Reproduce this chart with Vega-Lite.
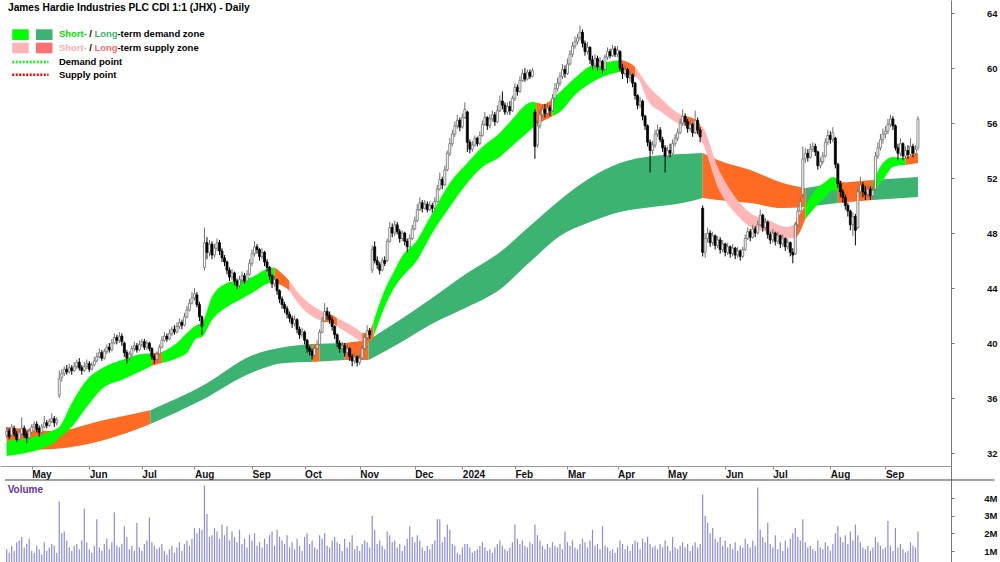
{
"$schema": "https://vega.github.io/schema/vega-lite/v6.json",
"width": 951, "height": 562,
"autosize": {"type": "none"},
"padding": {"left": 0, "top": 0, "right": 49, "bottom": 0},
"background": "white",
"config": {"view": {"stroke": null}, "font": "Liberation Sans", "text": {"font": "Liberation Sans"}},
"data": {"values": "i,o,h,l,c,v\n0,33.3,33.9,33.1,33.6,1.1\n1,33.6,33.8,33.0,33.2,0.9\n2,33.3,34.1,33.2,33.9,1.3\n3,33.8,34.0,33.2,33.4,1.0\n4,33.4,33.6,32.8,33.0,1.5\n5,33.0,33.7,32.9,33.5,1.6\n6,33.4,34.6,33.3,33.8,1.8\n7,33.8,34.0,33.1,33.3,1.2\n8,33.4,33.6,32.7,33.1,1.4\n9,33.1,33.8,33.0,33.6,1.7\n10,33.5,34.1,33.4,33.9,1.0\n11,33.9,34.3,33.7,34.1,0.9\n12,34.1,34.3,33.5,33.7,1.3\n13,33.8,34.0,33.2,33.5,1.1\n14,33.5,34.1,33.3,33.9,0.8\n15,33.9,34.7,33.8,34.2,1.5\n16,34.2,34.4,33.8,34.0,1.0\n17,34.0,34.5,33.9,34.3,1.2\n18,34.3,34.9,34.2,34.5,1.4\n19,34.5,34.7,33.9,34.2,1.3\n20,34.2,34.6,34.0,34.4,0.9\n21,36.2,38.0,36.0,37.4,3.8\n22,37.5,38.1,37.2,37.8,2.0\n23,37.8,38.3,37.6,38.1,2.1\n24,38.1,38.4,37.7,37.9,1.6\n25,37.9,38.5,37.8,38.2,1.2\n26,38.2,38.4,37.7,38.0,1.0\n27,38.0,38.6,37.9,38.3,1.3\n28,38.3,38.8,38.1,38.6,1.4\n29,38.6,38.9,38.0,38.2,1.1\n30,38.2,38.4,37.7,38.0,1.6\n31,38.0,38.6,37.9,38.3,3.4\n32,38.3,38.8,38.1,38.5,1.5\n33,38.5,38.7,37.9,38.1,1.1\n34,38.1,38.6,38.0,38.4,0.9\n35,38.4,39.0,38.3,38.7,1.3\n36,38.7,39.3,38.6,39.0,2.8\n37,39.0,39.6,38.9,39.3,1.2\n38,39.3,39.5,38.7,38.9,1.0\n39,38.9,39.6,38.8,39.4,1.4\n40,39.4,39.9,39.2,39.7,1.7\n41,39.7,40.0,39.3,39.5,1.1\n42,39.5,40.3,39.4,40.0,1.5\n43,40.0,40.7,39.9,40.4,3.2\n44,40.4,40.6,39.9,40.2,1.3\n45,40.2,40.8,40.0,40.5,1.2\n46,40.5,40.7,39.8,40.1,1.4\n47,40.0,40.1,39.0,39.3,2.4\n48,39.3,39.5,38.5,38.9,1.8\n49,38.9,39.4,38.7,39.2,1.1\n50,39.2,39.8,39.0,39.6,1.3\n51,39.6,40.1,39.4,39.8,1.0\n52,39.8,40.0,39.3,39.5,2.6\n53,39.5,40.2,39.4,39.9,1.2\n54,39.9,40.3,39.7,40.1,1.0\n55,40.1,40.3,39.5,39.7,1.4\n56,39.7,40.2,39.5,40.0,1.6\n57,40.0,40.1,39.4,39.6,2.9\n58,39.6,39.7,38.8,39.0,1.5\n59,39.0,39.2,38.5,38.8,1.3\n60,38.8,39.4,38.6,39.2,1.1\n61,39.2,39.9,39.1,39.7,1.2\n62,39.7,40.5,39.6,40.2,1.4\n63,40.2,40.8,40.1,40.5,1.0\n64,40.5,40.7,40.1,40.3,0.8\n65,40.3,41.0,40.2,40.7,1.1\n66,40.7,41.2,40.5,41.0,1.3\n67,41.0,41.3,40.6,40.8,0.9\n68,40.8,41.5,40.7,41.2,1.2\n69,41.2,41.8,41.0,41.5,1.5\n70,41.5,41.7,41.0,41.3,1.0\n71,41.3,42.2,41.2,41.9,1.4\n72,41.9,42.7,41.8,42.4,1.6\n73,42.4,43.2,42.3,42.9,1.3\n74,42.9,43.7,42.8,43.3,1.7\n75,43.3,44.0,43.1,43.6,2.3\n76,43.5,43.7,42.6,42.8,2.0\n77,42.8,43.0,41.6,41.9,2.3\n78,41.9,42.0,40.6,41.2,2.2\n79,45.5,48.4,45.3,47.3,4.7\n80,47.3,47.7,46.1,46.6,3.1\n81,46.6,47.5,46.3,47.2,1.8\n82,47.2,47.4,46.1,46.4,1.9\n83,46.4,47.2,46.2,46.9,2.3\n84,46.9,47.6,46.7,47.3,2.1\n85,47.3,47.5,46.4,46.7,1.7\n86,46.7,46.9,45.9,46.2,2.5\n87,46.2,46.4,45.6,45.9,1.9\n88,45.9,46.0,45.0,45.3,2.4\n89,45.3,45.5,44.5,44.8,1.6\n90,44.8,45.4,44.6,45.1,2.1\n91,45.1,45.2,44.2,44.5,1.8\n92,44.5,44.7,43.9,44.2,1.5\n93,44.2,44.9,44.0,44.6,2.2\n94,44.6,45.2,44.4,44.9,1.4\n95,44.9,45.1,44.3,44.5,1.7\n96,44.5,45.3,44.4,45.0,1.2\n97,45.0,46.1,44.9,45.8,1.9\n98,45.8,46.8,45.6,46.5,1.6\n99,46.5,47.4,46.3,47.0,2.0\n100,47.0,47.2,46.5,46.8,1.3\n101,46.8,46.9,46.0,46.3,1.5\n102,46.3,46.9,46.1,46.6,1.2\n103,46.6,46.7,45.6,45.9,1.7\n104,45.9,46.1,45.2,45.5,1.4\n105,45.5,45.6,44.6,44.9,1.9\n106,44.9,45.0,44.0,44.3,2.1\n107,44.3,44.9,44.1,44.6,1.3\n108,44.6,44.7,43.5,43.8,2.2\n109,43.8,43.9,42.9,43.2,1.8\n110,43.2,43.4,42.5,42.8,1.6\n111,42.8,43.0,42.2,42.5,1.4\n112,42.5,42.7,41.8,42.1,1.9\n113,42.1,42.3,41.5,41.8,1.2\n114,41.8,42.0,41.1,41.4,1.5\n115,41.4,42.0,41.2,41.7,1.1\n116,41.7,41.8,40.7,41.0,1.7\n117,41.0,41.2,40.3,40.6,1.3\n118,40.6,41.1,40.4,40.8,1.0\n119,40.8,40.9,39.9,40.2,1.8\n120,40.2,40.3,39.3,39.6,2.0\n121,39.6,39.8,39.1,39.4,1.4\n122,39.4,39.6,38.8,39.1,1.6\n123,39.1,39.8,39.0,39.6,1.2\n124,39.6,40.2,39.5,39.9,1.1\n125,39.9,41.0,39.8,40.8,1.9\n126,40.8,41.9,40.7,41.6,1.7\n127,41.6,42.9,41.5,42.3,2.0\n128,42.3,42.6,41.7,42.0,1.3\n129,42.0,42.3,41.4,41.7,1.2\n130,41.7,41.9,40.9,41.2,1.6\n131,41.2,41.3,40.3,40.6,1.8\n132,40.6,40.7,39.7,40.0,1.5\n133,40.0,40.2,39.3,39.6,1.4\n134,39.6,40.1,39.4,39.8,1.0\n135,39.8,40.0,39.0,39.3,1.7\n136,39.3,39.9,39.1,39.6,1.2\n137,39.6,39.7,38.7,39.0,1.5\n138,39.0,39.2,38.3,38.7,1.9\n139,38.7,39.3,38.5,39.0,1.1\n140,39.0,39.1,38.3,38.6,1.3\n141,38.6,39.2,38.4,38.9,1.0\n142,38.9,39.8,38.8,39.6,1.4\n143,39.6,40.6,39.5,40.4,1.6\n144,40.4,41.3,40.2,40.9,1.5\n145,40.9,41.1,40.3,40.6,1.2\n146,45.3,47.1,45.1,46.8,3.0\n147,47.0,47.4,45.8,46.0,2.2\n148,46.0,46.3,45.4,45.7,1.4\n149,45.7,45.9,45.0,45.3,1.6\n150,45.3,46.2,45.2,46.0,1.3\n151,46.0,46.3,45.6,45.8,1.1\n152,46.0,47.6,45.9,47.4,2.1\n153,47.4,48.8,47.3,48.4,1.9\n154,48.4,48.7,47.7,48.0,1.5\n155,48.0,48.9,47.8,48.6,1.6\n156,48.6,48.8,47.9,48.1,1.2\n157,48.1,48.3,47.3,47.6,1.4\n158,47.6,48.2,47.4,48.0,1.0\n159,48.0,48.1,47.1,47.4,1.3\n160,47.4,47.6,46.6,47.0,1.7\n161,47.0,47.9,46.9,47.6,2.4\n162,47.6,48.6,47.5,48.3,1.8\n163,48.3,49.2,48.2,48.9,1.5\n164,48.9,50.1,48.8,49.7,1.9\n165,49.7,50.6,49.6,50.2,1.6\n166,50.2,50.4,49.5,49.8,1.2\n167,49.8,50.4,49.7,50.1,1.0\n168,50.1,50.3,49.5,49.7,1.3\n169,49.7,50.3,49.6,50.0,1.1\n170,50.0,50.2,49.5,49.8,1.4\n171,49.8,50.6,49.7,50.3,1.6\n172,50.3,51.5,50.2,51.2,2.8\n173,51.2,52.4,51.1,51.9,2.8\n174,51.9,52.1,51.2,51.5,1.5\n175,51.5,52.9,51.4,52.6,1.8\n176,52.6,54.0,52.5,53.8,2.5\n177,53.8,54.9,53.6,54.5,2.2\n178,54.5,55.5,54.3,55.2,1.4\n179,55.2,56.1,55.0,55.8,1.3\n180,55.8,56.6,55.6,56.2,0.9\n181,56.2,56.4,55.4,55.7,0.8\n182,55.7,56.7,55.6,56.4,1.2\n183,56.4,57.5,56.3,57.0,1.4\n184,56.8,56.9,53.9,54.6,1.4\n185,54.6,54.8,53.8,54.1,1.2\n186,54.1,54.7,53.9,54.4,0.9\n187,54.4,55.1,54.3,54.9,1.0\n188,54.9,55.0,54.3,54.5,1.1\n189,54.5,55.4,54.4,55.1,1.3\n190,55.1,56.2,55.0,55.9,1.5\n191,55.9,56.8,55.8,56.4,1.2\n192,56.4,56.5,55.5,55.8,1.0\n193,55.8,56.6,55.6,56.3,1.1\n194,56.3,56.9,56.1,56.6,0.9\n195,56.6,56.8,55.8,56.1,1.2\n196,56.1,57.3,56.0,56.9,1.4\n197,56.9,58.0,56.8,57.6,1.6\n198,57.6,58.3,57.0,57.3,1.3\n199,57.3,57.5,56.6,56.8,1.1\n200,56.8,57.5,56.6,57.2,1.0\n201,57.2,57.6,56.6,56.9,1.2\n202,56.9,58.0,56.8,57.8,1.5\n203,57.8,58.9,57.6,58.6,2.5\n204,58.6,58.8,58.0,58.3,1.7\n205,58.3,59.4,58.2,59.1,1.4\n206,59.1,59.9,59.0,59.6,1.6\n207,59.6,60.0,59.0,59.2,1.3\n208,59.2,59.9,59.1,59.7,1.2\n209,59.7,59.9,59.2,59.4,1.5\n210,59.4,60.0,59.3,59.8,1.4\n211,56.8,57.0,53.4,54.3,2.5\n212,54.4,56.2,54.2,55.8,1.9\n213,55.8,57.0,55.6,56.6,1.6\n214,56.6,57.3,56.4,57.0,1.3\n215,57.0,57.4,56.4,56.7,1.1\n216,56.7,57.5,56.5,57.1,1.4\n217,57.1,57.3,56.5,56.9,1.2\n218,56.9,58.1,56.8,57.8,1.5\n219,57.8,58.9,57.7,58.5,1.3\n220,58.5,59.3,58.3,58.9,1.2\n221,58.9,59.7,58.7,59.4,1.4\n222,59.4,60.3,59.2,59.9,1.1\n223,59.9,60.2,59.3,59.6,2.1\n224,59.6,60.7,59.5,60.3,1.5\n225,60.3,61.3,60.2,61.0,1.3\n226,61.0,61.9,60.8,61.6,1.6\n227,61.6,62.3,61.4,61.9,1.2\n228,61.9,62.5,61.7,62.2,1.1\n229,62.2,63.1,62.0,62.6,1.4\n230,62.6,62.8,61.5,61.8,1.7\n231,61.8,62.0,60.9,61.2,1.5\n232,61.2,61.9,61.0,61.5,1.2\n233,61.5,61.6,60.3,60.6,1.6\n234,60.6,60.9,59.9,60.2,2.2\n235,60.2,61.0,60.0,60.7,1.3\n236,60.7,60.9,59.8,60.1,1.4\n237,60.1,60.8,59.9,60.5,1.1\n238,60.5,60.6,59.6,59.9,2.4\n239,59.9,61.0,59.8,60.8,1.3\n240,60.8,61.5,60.6,61.2,1.2\n241,61.2,61.4,60.7,60.9,1.0\n242,60.9,61.7,60.8,61.4,1.1\n243,61.4,61.6,60.8,61.0,0.9\n244,61.0,61.6,60.8,61.3,1.2\n245,61.2,61.3,59.8,60.0,1.6\n246,60.0,60.3,59.2,59.6,1.4\n247,59.6,60.2,59.4,59.9,1.1\n248,59.9,60.0,58.9,59.3,1.3\n249,59.3,59.8,59.0,59.5,1.0\n250,59.5,59.6,58.6,58.9,1.4\n251,58.9,59.0,57.7,58.0,1.6\n252,58.0,58.1,57.0,57.3,1.5\n253,57.3,57.9,57.1,57.6,1.1\n254,57.6,57.7,56.2,56.5,1.7\n255,56.5,56.6,55.5,55.8,1.5\n256,55.8,55.9,54.3,54.6,1.8\n257,54.6,54.8,52.4,54.0,1.4\n258,54.0,54.7,53.7,54.4,1.2\n259,54.4,55.5,54.2,55.2,1.3\n260,55.2,55.9,55.0,55.5,1.1\n261,55.5,55.7,54.6,54.8,1.4\n262,54.8,55.0,53.9,54.2,1.2\n263,54.2,54.4,52.4,53.6,1.6\n264,53.6,54.3,53.4,54.0,1.3\n265,54.0,54.5,53.5,53.8,1.0\n266,53.8,54.8,53.7,54.5,1.8\n267,54.5,55.2,54.3,54.9,1.2\n268,54.9,55.6,54.7,55.3,1.1\n269,55.3,56.3,55.2,56.0,1.3\n270,56.0,57.0,55.8,56.5,1.5\n271,56.5,56.7,55.8,56.1,1.2\n272,56.1,56.3,55.3,55.6,1.4\n273,55.6,56.2,55.4,55.9,1.0\n274,55.9,56.0,55.0,55.3,1.3\n275,55.3,56.9,55.2,56.2,1.5\n276,56.2,56.4,55.2,55.5,1.2\n277,55.5,55.7,54.6,55.0,1.4\n278,49.8,50.0,46.3,46.6,4.2\n279,46.6,48.0,46.2,47.6,3.0\n280,47.6,48.4,47.3,48.0,2.6\n281,48.0,48.2,47.0,47.3,2.0\n282,47.3,48.1,47.1,47.8,2.3\n283,47.8,47.9,46.8,47.1,1.7\n284,47.1,47.8,46.9,47.5,1.5\n285,47.5,47.7,46.5,46.8,1.8\n286,46.8,47.5,46.6,47.2,1.3\n287,47.2,47.3,46.3,46.6,1.6\n288,46.6,47.3,46.4,47.0,1.2\n289,47.0,47.1,46.2,46.5,1.4\n290,46.5,47.2,46.3,46.9,1.1\n291,46.9,47.0,46.1,46.4,1.5\n292,46.4,47.0,46.2,46.7,1.0\n293,46.7,46.8,46.0,46.3,1.3\n294,46.3,47.0,46.2,46.8,1.2\n295,46.8,47.9,46.7,47.6,1.7\n296,47.6,48.4,47.5,48.1,1.4\n297,48.1,48.3,47.4,47.7,1.2\n298,47.7,48.6,47.6,48.3,1.6\n299,48.3,48.5,47.7,48.0,1.3\n300,48.0,48.9,47.9,48.6,4.6\n301,48.6,49.7,48.5,49.3,2.2\n302,49.3,49.4,48.1,48.4,1.8\n303,48.4,49.1,48.2,48.8,1.5\n304,48.8,48.9,47.6,47.9,2.6\n305,47.9,48.1,47.2,47.5,1.4\n306,47.5,48.3,47.3,48.0,1.2\n307,48.0,48.1,47.1,47.4,1.9\n308,47.4,48.1,47.2,47.8,1.1\n309,47.8,47.9,46.9,47.2,1.5\n310,47.2,47.9,47.0,47.6,1.0\n311,47.6,47.7,46.7,47.0,1.6\n312,47.0,47.6,46.8,47.3,1.2\n313,47.3,47.4,46.3,46.6,1.7\n314,46.6,46.9,45.8,46.4,2.0\n315,46.5,48.8,46.4,48.6,2.3\n316,48.6,49.9,48.4,49.6,1.8\n317,49.6,50.6,49.5,50.3,1.6\n318,50.8,54.3,50.6,53.4,2.8\n319,53.4,54.2,53.1,53.8,1.5\n320,53.8,54.1,53.2,53.5,1.2\n321,53.5,54.5,53.4,54.1,1.3\n322,54.1,54.6,53.9,54.3,1.1\n323,54.3,54.5,53.6,53.9,1.0\n324,53.9,54.0,52.6,52.9,1.6\n325,52.9,53.5,52.7,53.2,1.2\n326,53.2,53.9,53.0,53.6,1.1\n327,53.6,54.9,53.5,54.6,1.5\n328,54.6,55.5,54.4,55.1,1.3\n329,55.1,55.4,54.5,54.8,1.0\n330,54.8,55.7,54.6,55.3,1.4\n331,54.9,55.0,52.7,53.0,2.0\n332,53.0,53.1,51.3,51.6,2.4\n333,51.6,51.8,50.6,51.0,1.8\n334,51.0,51.2,50.2,50.6,1.5\n335,50.6,50.8,49.7,50.0,1.9\n336,50.0,50.2,49.2,49.6,1.4\n337,49.6,49.7,48.2,48.6,2.1\n338,48.6,49.5,47.8,49.2,1.6\n339,49.2,49.4,47.1,48.2,2.5\n340,48.4,51.2,48.3,51.0,1.9\n341,51.0,52.1,50.8,51.5,1.5\n342,51.5,51.7,50.6,51.0,1.2\n343,51.0,51.4,50.4,50.8,1.1\n344,50.8,51.5,50.6,51.2,1.3\n345,51.2,51.4,50.4,50.7,1.0\n346,50.7,51.4,50.5,51.1,1.2\n347,51.2,53.9,51.1,53.6,1.8\n348,53.6,54.6,53.4,54.2,1.5\n349,54.2,55.2,54.0,54.8,1.3\n350,54.8,55.6,54.5,55.2,1.1\n351,55.2,55.8,54.9,55.4,1.2\n352,55.4,56.3,55.2,55.9,2.7\n353,55.9,56.6,55.7,56.3,1.3\n354,56.3,56.5,55.5,55.8,1.0\n355,55.8,55.9,54.0,54.2,2.3\n356,54.2,54.5,53.3,53.8,1.2\n357,53.8,54.9,53.6,54.5,1.4\n358,54.5,54.6,53.3,53.6,1.1\n359,53.6,54.3,53.4,54.0,0.9\n360,54.0,54.4,53.4,53.7,1.0\n361,53.7,54.9,53.6,54.3,1.5\n362,54.3,54.5,53.5,53.8,1.3\n363,53.8,54.4,53.6,54.1,1.2\n364,54.2,56.5,54.0,56.3,2.1", "format": {"type": "csv", "parse": {"i": "number", "o": "number", "h": "number", "l": "number", "c": "number", "v": "number"}}},
"layer": [
 {
  "layer": [
   {
    "data": {"name": "bands", "values": "b,g,k,i,hi,lo\nL,L1,in,0,33.9,32.2\nL,L1,in,19,33.6,32.3\nL,L1,in,39,34.4,32.95\nL,L1,in,57.4,35.12,34.11\nL,L2,ld,57.4,35.12,34.11\nL,L2,ld,78,36.87,35.85\nL,L2,ld,98,39.1,37.85\nL,L2,ld,111,39.71,38.55\nL,L2,ld,122,39.93,38.62\nL,L3,in,122,39.93,38.62\nL,L3,in,125,39.95,38.65\nL,L4,ld,125,39.95,38.65\nL,L4,ld,135,40.0,38.76\nL,L5,in,135,40.0,38.76\nL,L5,in,144.5,40.22,38.76\nL,L6,ld,144.5,40.22,38.76\nL,L6,ld,157,41.67,40.0\nL,L6,ld,170.5,43.35,41.45\nL,L6,ld,184,45.09,42.62\nL,L6,ld,197,46.6,43.9\nL,L6,ld,209,48.51,45.89\nL,L6,ld,221,50.4,47.78\nL,L6,ld,233,52.0,48.8\nL,L6,ld,245,53.09,49.53\nL,L6,ld,258,53.6,49.89\nL,L6,ld,270,53.75,50.18\nL,L6,ld,278,53.82,50.55\nL,L7,in,278,53.82,50.55\nL,L7,in,284,53.31,50.4\nL,L7,in,297,52.58,50.18\nL,L7,in,310,51.64,49.82\nL,L7,in,319,51.27,49.89\nL,L8,ld,319,51.27,49.89\nL,L8,ld,332,51.64,50.18\nL,L9,in,332,51.64,50.18\nL,L9,in,346,51.85,50.4\nL,L10,ld,346,51.85,50.4\nL,L10,ld,364,52.07,50.62\nS,S1,sd,0,32.87,31.78\nS,S1,sd,19,33.67,32.73\nS,S1,sd,21,33.89,33.09\nS,S1,sd,26,35.64,33.89\nS,S1,sd,32,37.31,35.35\nS,S1,sd,39,38.25,36.8\nS,S1,sd,46,38.76,37.31\nS,S1,sd,52,39.13,37.82\nS,S1,sd,58,39.25,38.35\nS,S2,in,58,39.25,38.35\nS,S2,in,62,39.35,38.55\nS,S3,sd,62,39.35,38.55\nS,S3,sd,68,40.0,38.9\nS,S3,sd,72,40.73,39.27\nS,S3,sd,76,41.31,40.36\nS,S3,sd,78,41.45,40.44\nS,S3,sd,82,43.35,41.67\nS,S3,sd,88,44.36,42.62\nS,S3,sd,93,44.58,43.13\nS,S3,sd,98,44.8,43.64\nS,S3,sd,105,45.45,44.36\nS,S3,sd,107,45.5,44.4\nS,S4,in,107,45.5,44.4\nS,S4,in,111,44.9,44.07\nS,S4,in,113,44.5,43.8\nS,S5,ss,113,44.5,43.8\nS,S5,ss,118,43.35,42.55\nS,S5,ss,125,42.4,41.67\nS,S5,ss,127,42.2,41.55\nS,S6,in,127,42.2,41.55\nS,S6,in,130,42.04,41.45\nS,S6,in,132,41.8,41.2\nS,S7,ss,132,41.8,41.2\nS,S7,ss,138,41.24,40.51\nS,S7,ss,142,40.73,40.07\nS,S8,in,142,40.73,40.07\nS,S8,in,144,40.73,40.0\nS,S8,in,146.5,41.53,40.44\nS,S9,sd,146.5,41.53,40.44\nS,S9,sd,151,43.85,42.62\nS,S9,sd,155,45.31,44.07\nS,S9,sd,157,46.04,44.58\nS,S9,sd,164,47.49,46.04\nS,S9,sd,170,49.45,48.0\nS,S9,sd,177,51.64,49.89\nS,S9,sd,184,53.09,51.64\nS,S9,sd,190,54.25,52.8\nS,S9,sd,197,55.27,53.53\nS,S9,sd,201,56.07,54.18\nS,S9,sd,210,57.53,55.64\nS,S9,sd,211.5,57.5,55.9\nS,S10,in,211.5,57.5,55.9\nS,S10,in,215,57.38,56.22\nS,S10,in,218,57.8,56.5\nS,S11,sd,218,57.8,56.5\nS,S11,sd,221,58.25,56.8\nS,S11,sd,227,59.27,58.04\nS,S11,sd,234,60.22,58.98\nS,S11,sd,240,60.44,59.49\nS,S11,sd,245,60.58,59.71\nS,S12,in,245,60.58,59.71\nS,S12,in,248,60.44,59.49\nS,S12,in,251,60.1,59.35\nS,S13,ss,251,60.1,59.35\nS,S13,ss,252,59.85,59.27\nS,S13,ss,256,58.76,57.67\nS,S13,ss,262,57.67,56.73\nS,S13,ss,268,56.73,56.0\nS,S13,ss,271,56.5,55.8\nS,S14,in,271,56.5,55.8\nS,S14,in,274,56.36,55.64\nS,S14,in,277,55.9,54.9\nS,S15,ss,277,55.9,54.9\nS,S15,ss,278,55.71,54.55\nS,S15,ss,284,52.8,51.35\nS,S15,ss,291,50.62,49.45\nS,S15,ss,297,49.45,48.44\nS,S15,ss,304,48.95,48.07\nS,S15,ss,311.6,48.44,47.64\nS,S15,ss,314.5,48.6,47.6\nS,S16,in,314.5,48.6,47.6\nS,S16,in,315.5,48.95,47.71\nS,S16,in,319,50.0,49.0\nS,S17,sd,319,50.0,49.0\nS,S17,sd,323,51.13,49.89\nS,S17,sd,327,51.71,50.62\nS,S17,sd,330,52.07,51.13\nS,S17,sd,332,51.9,51.0\nS,S18,in,332,51.9,51.0\nS,S18,in,334,51.71,50.91\nS,S18,in,339,51.27,50.55\nS,S18,in,346,51.71,50.98\nS,S19,sd,346,51.71,50.98\nS,S19,sd,350,53.09,51.85\nS,S19,sd,354,53.53,52.8\nS,S19,sd,358,53.45,52.95\nS,S19,sd,359,53.5,52.95\nS,S20,in,359,53.5,52.95\nS,S20,in,364,53.82,53.09", "format": {"type": "csv", "parse": {"i": "number", "hi": "number", "lo": "number"}}},
    "transform": [{"filter": "datum.b == 'L'"}],
    "mark": {"type": "area", "interpolate": "monotone"},
    "encoding": {
     "x": {"field": "i", "type": "quantitative", "scale": {"domain": [-0.67, 375.2], "nice": false, "zero": false},
      "axis": {"orient": "bottom", "offset": -96, "values": [10,33,54,75,98,119,141,163,182,203,224,244,264,287,306,329,351],
       "labelExpr": "['May','Jun','Jul','Aug','Sep','Oct','Nov','Dec','2024','Feb','Mar','Apr','May','Jun','Jul','Aug','Sep'][indexof([10,33,54,75,98,119,141,163,182,203,224,244,264,287,306,329,351], datum.value)]",
       "labelAlign": "left", "labelBaseline": "top", "labelPadding": 0, "tickSize": 3, "tickColor": "#888", "domainColor": "#999",
       "labelFont": "Liberation Sans", "labelFontWeight": "bold", "labelFontSize": 10, "labelColor": "#111", "grid": false, "title": null, "labelFlush": false, "labelOverlap": false, "labelBound": false}},
     "y": {"field": "hi", "type": "quantitative", "scale": {"domain": [30.04, 64.95], "range": [480, 0], "nice": false, "zero": false},
      "axis": {"orient": "right", "values": [32,34,36,38,40,42,44,46,48,50,52,54,56,58,60,62,64], "tickSize": 3, "tickColor": "#777", "domainColor": "#777",
       "labelAlign": "right", "labelPadding": 43, "labelBaseline": "middle", "labelFont": "Liberation Sans", "labelFontWeight": "bold", "labelFontSize": 9.5, "labelColor": "#111", "grid": false, "title": null}},
     "y2": {"field": "lo"},
     "color": {"field": "k", "type": "nominal", "scale": {"domain": ["sd", "ss", "ld", "in"], "range": ["#00FF00", "#FFB6B6", "#3CB371", "#FF6B22"]}, "legend": null},
     "detail": {"field": "g", "type": "nominal"}
    }
   },
   {
    "data": {"name": "bands"},
    "transform": [{"filter": "datum.b == 'S'"}],
    "mark": {"type": "area", "interpolate": "monotone"},
    "encoding": {
     "x": {"field": "i", "type": "quantitative"},
     "y": {"field": "hi", "type": "quantitative"},
     "y2": {"field": "lo"},
     "color": {"field": "k", "type": "nominal"},
     "detail": {"field": "g", "type": "nominal"}
    }
   },
   {
    "mark": {"type": "rule", "strokeWidth": 1},
    "encoding": {
     "x": {"field": "i", "type": "quantitative"},
     "y": {"field": "l", "type": "quantitative"},
     "y2": {"field": "h"},
     "color": {"condition": {"test": "datum.c >= datum.o", "value": "#707070"}, "value": "#000000"}
    }
   },
   {
    "mark": {"type": "bar", "size": 2, "strokeWidth": 0.8},
    "encoding": {
     "x": {"field": "i", "type": "quantitative"},
     "y": {"field": "o", "type": "quantitative"},
     "y2": {"field": "c"},
     "fill": {"condition": {"test": "datum.c >= datum.o", "value": "#FFFFFF"}, "value": "#000000"},
     "stroke": {"condition": {"test": "datum.c >= datum.o", "value": "#707070"}, "value": "#000000"}
    }
   },
   {"data": {"values": [{}]}, "mark": {"type": "text", "text": "James Hardie Industries PLC CDI 1:1 (JHX) - Daily", "align": "left", "baseline": "middle", "fontWeight": "bold", "fontSize": 10.2, "color": "#000"}, "encoding": {"x": {"datum": 0.516}, "y": {"datum": 64.37}}},
   {"data": {"values": [{}]}, "mark": {"type": "rect", "color": "#00FF00"}, "encoding": {"x": {"datum": 2.215}, "x2": {"datum": 8.815}, "y": {"datum": 62.819}, "y2": {"datum": 62.041}}},
   {"data": {"values": [{}]}, "mark": {"type": "rect", "color": "#3CB371"}, "encoding": {"x": {"datum": 11.70}, "x2": {"datum": 18.30}, "y": {"datum": 62.819}, "y2": {"datum": 62.041}}},
   {"data": {"values": [{}]}, "mark": {"type": "rect", "color": "#FFB3B3"}, "encoding": {"x": {"datum": 2.215}, "x2": {"datum": 8.815}, "y": {"datum": 61.845}, "y2": {"datum": 61.074}}},
   {"data": {"values": [{}]}, "mark": {"type": "rect", "color": "#FF7070"}, "encoding": {"x": {"datum": 11.70}, "x2": {"datum": 18.30}, "y": {"datum": 61.845}, "y2": {"datum": 61.074}}},
   {"data": {"values": [{}]}, "mark": {"type": "rule", "color": "#00FF00", "strokeWidth": 2.5, "strokeDash": [2, 1.5]}, "encoding": {"x": {"datum": 2.215}, "x2": {"datum": 16.72}, "y": {"datum": 60.44}}},
   {"data": {"values": [{}]}, "mark": {"type": "rule", "color": "#FF0000", "strokeWidth": 2.5, "strokeDash": [2, 1.5]}, "encoding": {"x": {"datum": 2.215}, "x2": {"datum": 16.72}, "y": {"datum": 59.51}}},
   {"data": {"values": [{}]}, "mark": {"type": "text", "text": "Short-", "align": "left", "baseline": "middle", "fontWeight": "bold", "fontSize": 9.5, "color": "#00E000"}, "encoding": {"x": {"datum": 20.87}, "y": {"datum": 62.48}}},
   {"data": {"values": [{}]}, "mark": {"type": "text", "text": "/", "align": "left", "baseline": "middle", "fontWeight": "bold", "fontSize": 9.5, "color": "#000"}, "encoding": {"x": {"datum": 32.96}, "y": {"datum": 62.48}}},
   {"data": {"values": [{}]}, "mark": {"type": "text", "text": "Long", "align": "left", "baseline": "middle", "fontWeight": "bold", "fontSize": 9.5, "color": "#3CB371"}, "encoding": {"x": {"datum": 35.06}, "y": {"datum": 62.48}}},
   {"data": {"values": [{}]}, "mark": {"type": "text", "text": "-term demand zone", "align": "left", "baseline": "middle", "fontWeight": "bold", "fontSize": 9.5, "color": "#000"}, "encoding": {"x": {"datum": 44.23}, "y": {"datum": 62.48}}},
   {"data": {"values": [{}]}, "mark": {"type": "text", "text": "Short-", "align": "left", "baseline": "middle", "fontWeight": "bold", "fontSize": 9.5, "color": "#FFB0B0"}, "encoding": {"x": {"datum": 20.87}, "y": {"datum": 61.46}}},
   {"data": {"values": [{}]}, "mark": {"type": "text", "text": "/", "align": "left", "baseline": "middle", "fontWeight": "bold", "fontSize": 9.5, "color": "#000"}, "encoding": {"x": {"datum": 32.96}, "y": {"datum": 61.46}}},
   {"data": {"values": [{}]}, "mark": {"type": "text", "text": "Long", "align": "left", "baseline": "middle", "fontWeight": "bold", "fontSize": 9.5, "color": "#FF6B6B"}, "encoding": {"x": {"datum": 35.06}, "y": {"datum": 61.46}}},
   {"data": {"values": [{}]}, "mark": {"type": "text", "text": "-term supply zone", "align": "left", "baseline": "middle", "fontWeight": "bold", "fontSize": 9.5, "color": "#000"}, "encoding": {"x": {"datum": 44.23}, "y": {"datum": 61.46}}},
   {"data": {"values": [{}]}, "mark": {"type": "text", "text": "Demand point", "align": "left", "baseline": "middle", "fontWeight": "bold", "fontSize": 9.5, "color": "#000"}, "encoding": {"x": {"datum": 20.87}, "y": {"datum": 60.44}}},
   {"data": {"values": [{}]}, "mark": {"type": "text", "text": "Supply point", "align": "left", "baseline": "middle", "fontWeight": "bold", "fontSize": 9.5, "color": "#000"}, "encoding": {"x": {"datum": 20.87}, "y": {"datum": 59.49}}}
  ]
 },
 {
  "layer": [
   {
    "mark": {"type": "bar", "size": 1.2, "color": "#8C8CD8"},
    "encoding": {
     "x": {"field": "i", "type": "quantitative"},
     "y": {"field": "v", "type": "quantitative", "scale": {"domain": [0, 5.02], "range": [568.7, 480], "nice": false, "zero": false},
      "axis": {"orient": "right", "values": [1, 2, 3, 4], "labelExpr": "datum.value + 'M'", "tickSize": 3, "tickColor": "#777", "domainColor": "#777",
       "labelAlign": "right", "labelPadding": 43, "labelBaseline": "middle", "labelFont": "Liberation Sans", "labelFontWeight": "bold", "labelFontSize": 9.5, "labelColor": "#111", "grid": false, "title": null}}
    }
   },
   {"data": {"values": [{}]}, "mark": {"type": "rule", "color": "#444", "strokeWidth": 1}, "encoding": {"x": {"datum": -0.67}, "x2": {"datum": 394.6}, "y": {"datum": 5.02}}},
   {"data": {"values": [{}]}, "mark": {"type": "text", "text": "Volume", "align": "left", "baseline": "middle", "fontWeight": "bold", "fontSize": 10, "color": "#663399"}, "encoding": {"x": {"datum": 0.397}, "y": {"datum": 4.48}}}
  ]
 }
],
"resolve": {"scale": {"y": "independent"}}
}
